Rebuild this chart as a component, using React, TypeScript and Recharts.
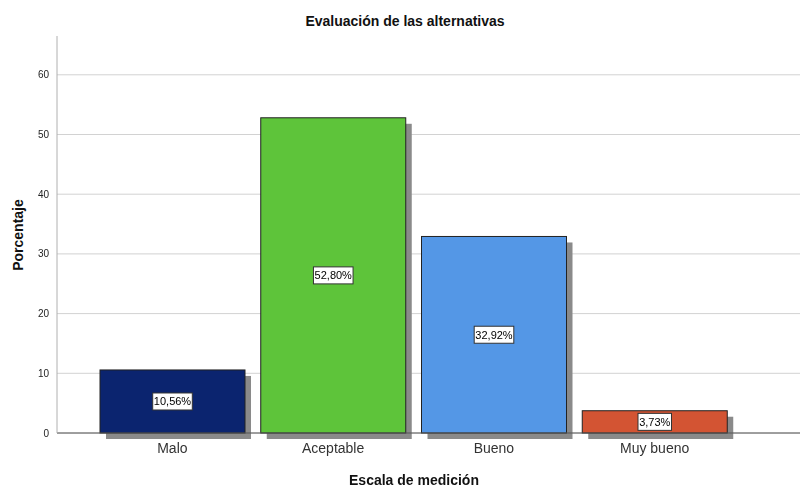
import { BarChart, Bar, XAxis, YAxis, CartesianGrid, Cell, LabelList } from 'recharts';

const categories = ['Malo', 'Aceptable', 'Bueno', 'Muy bueno'];
const percentages = [10.56, 52.8, 32.92, 3.73];
const yTicks = [0, 10, 20, 30, 40, 50, 60];

const COLORS = ['#0B246F', '#5EC43A', '#5497E6', '#D35433'];
const FONT = '"Liberation Sans", Arial, sans-serif';

const data = categories.map((name, i) => ({ name, value: percentages[i] }));

function ShadowBar(props: any) {
  const { x, y, width, height, fill } = props;
  return (
    <g>
      <rect x={x + 6} y={y + 6} width={width} height={height} fill="#8a8a8a" />
      <rect x={x} y={y} width={width} height={height} fill={fill} stroke="#222" strokeWidth={1} />
    </g>
  );
}

function BoxLabel(props: any) {
  const { x, y, width, height, value } = props;
  const text = value.toFixed(2).replace('.', ',') + '%';
  const cx = x + width / 2;
  const cy = y + height / 2;
  const w = text.length * 6.1 + 3;
  return (
    <g>
      <rect x={cx - w / 2} y={cy - 8.5} width={w} height={17} fill="#fff" stroke="#333" strokeWidth={1} />
      <text x={cx} y={cy + 4} textAnchor="middle" fontSize={11} fontFamily={FONT} fill="#000">
        {text}
      </text>
    </g>
  );
}

export default function App() {
  return (
    <div style={{ position: 'fixed', left: 0, top: 0, width: 801, height: 487, background: '#fff', fontFamily: FONT }}>
      <div style={{ position: 'absolute', left: 0, width: 810, top: 13, textAlign: 'center', fontWeight: 'bold', fontSize: 14, color: '#111' }}>
        Evaluación de las alternativas
      </div>
      <div
        style={{
          position: 'absolute', left: 18, top: 235, fontWeight: 'bold', fontSize: 14, color: '#111',
          transform: 'translate(-50%, -50%) rotate(-90deg)', whiteSpace: 'nowrap',
        }}
      >
        Porcentaje
      </div>
      <div style={{ position: 'absolute', left: 0, width: 828, top: 472, textAlign: 'center', fontWeight: 'bold', fontSize: 14, color: '#111' }}>
        Escala de medición
      </div>
      <BarChart width={801} height={487} data={data} margin={{ top: 36, right: 1, bottom: 24, left: 0 }}>
        <CartesianGrid vertical={false} stroke="#d2d2d2" syncWithTicks />
        <XAxis
          dataKey="name"
          padding={{ left: 35, right: 65 }}
          tickLine={false}
          stroke="#555"
          tick={{ fill: '#333', fontSize: 14, fontFamily: FONT }}
          tickMargin={4}
        />
        <YAxis
          width={57}
          domain={[0, 66.5]}
          ticks={yTicks}
          tickLine={false}
          stroke="#b0b0b0"
          tick={{ fill: '#222', fontSize: 10, fontFamily: FONT }}
        />
        <Bar dataKey="value" barSize={145} shape={<ShadowBar />} isAnimationActive={false}>
          {data.map((d, i) => (
            <Cell key={d.name} fill={COLORS[i]} />
          ))}
          <LabelList dataKey="value" content={<BoxLabel />} />
        </Bar>
      </BarChart>
    </div>
  );
}
